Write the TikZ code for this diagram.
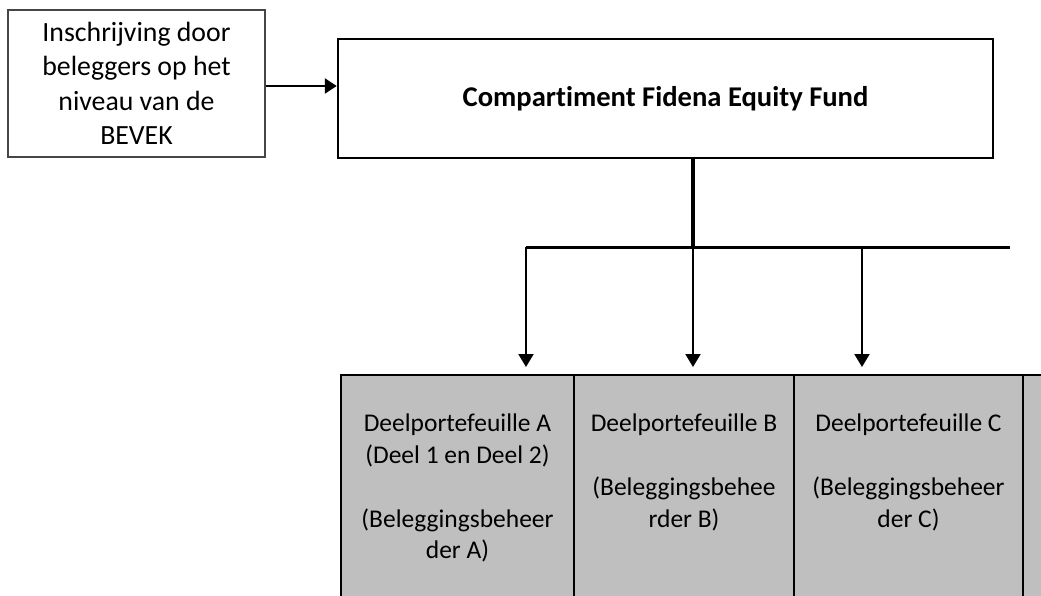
\documentclass[tikz,border=0pt]{standalone}
\usepackage{fontspec}
\setmainfont{Carlito}[Ligatures=NoCommon]
\usetikzlibrary{arrows.meta}
\definecolor{cellgray}{RGB}{191,191,191}
\definecolor{lboxline}{RGB}{70,70,70}
\begin{document}
\begin{tikzpicture}[x=1pt,y=-1pt,
  lboxst/.style={draw=lboxline, line width=1.3pt, rectangle, inner sep=0pt,
    minimum width=257pt, minimum height=147pt, align=center,
    font=\fontsize{27.8}{34.5}\selectfont},
  mainst/.style={draw, line width=2.5pt, rectangle, inner sep=0pt,
    minimum width=655pt, minimum height=119pt,
    font=\bfseries\fontsize{28.6}{34}\selectfont},
  cellst/.style={draw, fill=cellgray, line width=2pt, rectangle, inner sep=0pt,
    minimum height=260pt, anchor=north west},
  celltext/.style={anchor=north, align=center, inner sep=0pt,
    font=\fontsize{25.5}{31.7}\selectfont},
  thickline/.style={line width=3pt},
  arr/.style={line width=2pt, -{Triangle[width=15pt,length=13pt]}},
]
\useasboundingbox (0,0) rectangle (1041,595);
\clip (0,0) rectangle (1041,595);

% top boxes
\node[lboxst] (lbox) at (136.5,83.5) {Inschrijving door\\beleggers op het\\niveau van de\\BEVEK};
\node[mainst] (main) at (665.5,98.5) {Compartiment Fidena Equity Fund};

% table cells
\node[cellst, minimum width=233pt] (ca) at (340,374) {};
\node[cellst, minimum width=220pt] (cb) at (573,374) {};
\node[cellst, minimum width=229pt] (cc) at (793,374) {};
\node[cellst, minimum width=80pt]  (cd) at (1022,374) {};

\node[celltext] (ta) at ([yshift=-40pt]ca.north) {Deelportefeuille A\\(Deel 1 en Deel 2)\\\mbox{}\\(Beleggingsbeheer\\der A)};
\node[celltext] (tb) at ([yshift=-40pt]cb.north) {Deelportefeuille B\\\mbox{}\\(Beleggingsbehee\\rder B)};
\node[celltext] (tc) at ([yshift=-40pt]cc.north) {Deelportefeuille C\\\mbox{}\\(Beleggingsbeheer\\der C)};

% connectors
\coordinate (ay) at (0,86);
\draw[line width=2.5pt, -{Triangle[width=15pt,length=12pt]}] (lbox.east |- ay) -- (main.west |- ay);

\coordinate (hl) at (526,247);
\coordinate (hm) at (693,247);
\coordinate (hr) at (1010,247);
\draw[line width=3.3pt] (main.south -| hm) -- (hm);
\draw[thickline] (hl) -- (hr);
\draw[arr, shorten >=7pt] (hl) -- (hl |- ca.north);
\draw[arr, shorten >=7pt] (hm) -- (hm |- cb.north);
\draw[arr, shorten >=7pt] (862,247) coordinate (hc) -- (hc |- cc.north);
\end{tikzpicture}
\end{document}
